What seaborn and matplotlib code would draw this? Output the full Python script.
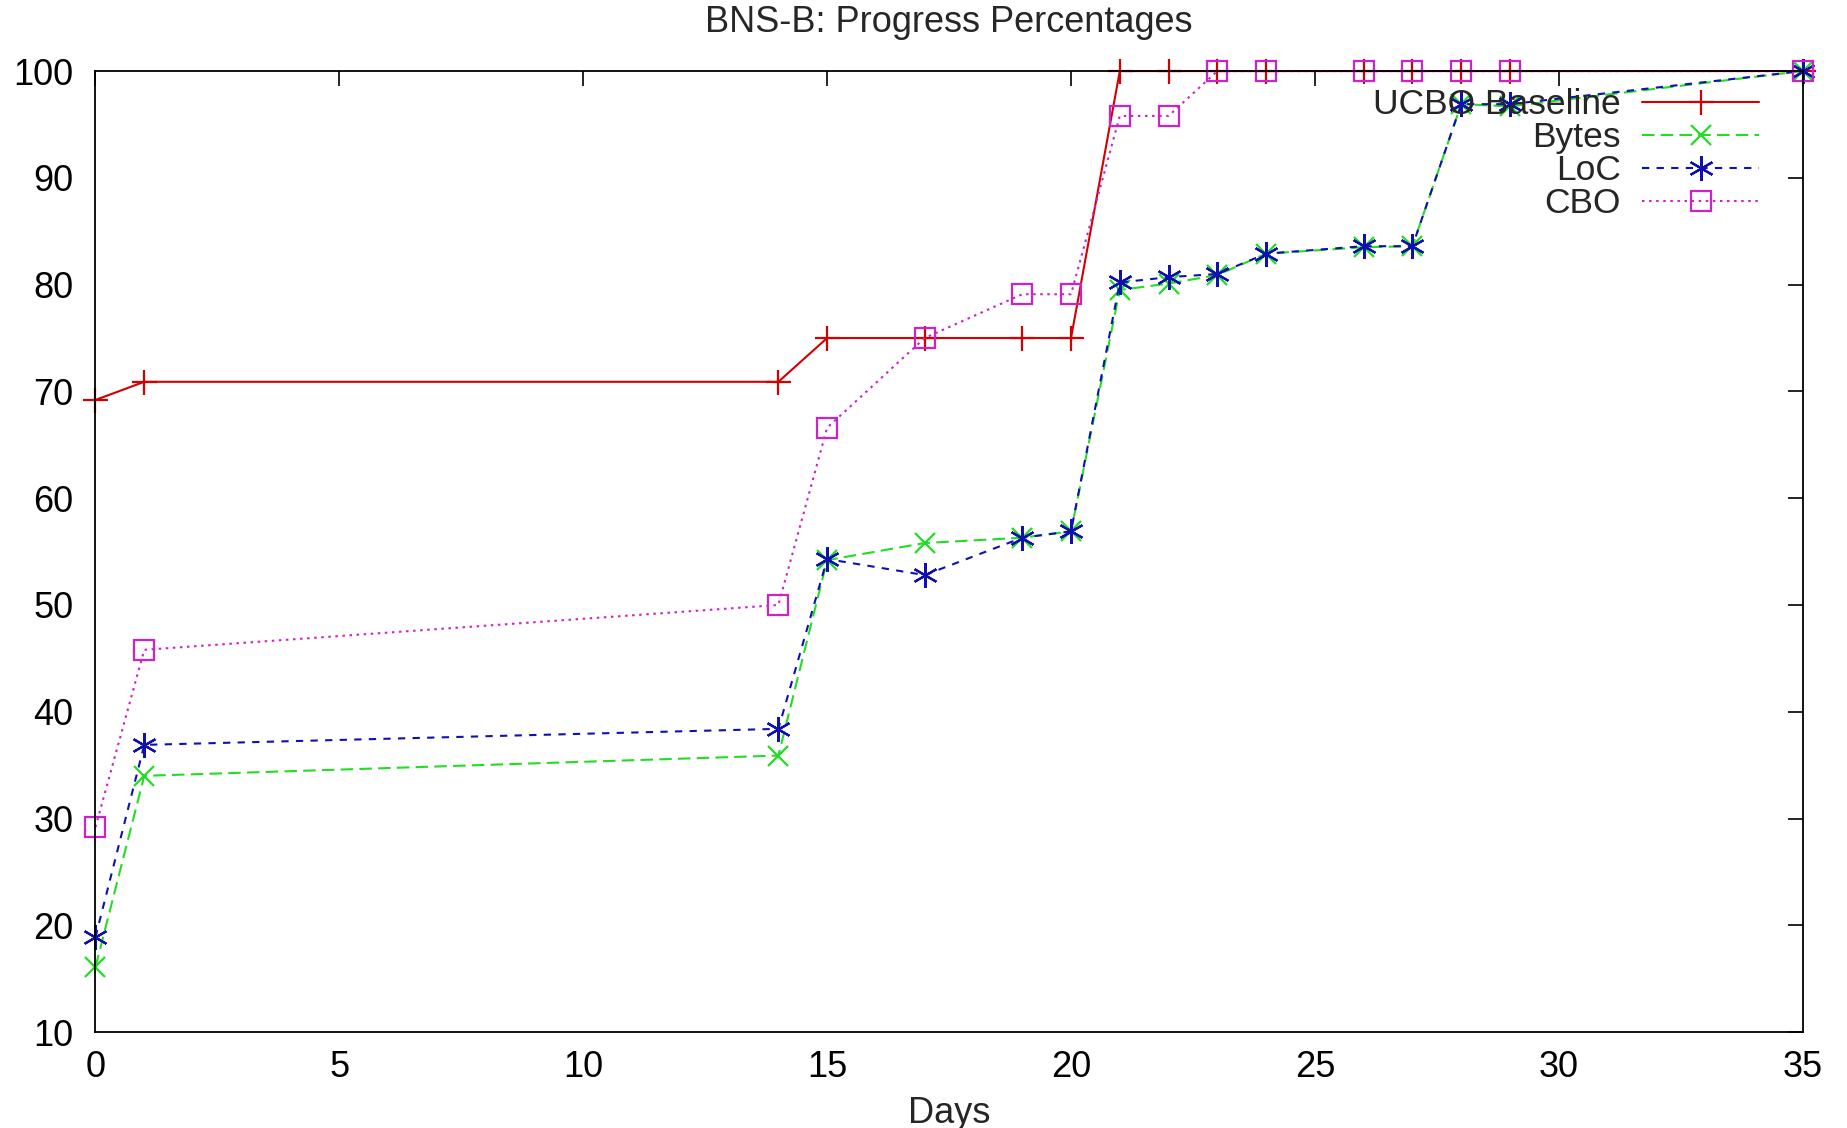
import matplotlib
matplotlib.use("Agg")
import matplotlib.pyplot as plt
import seaborn as sns
import pandas as pd

days = [0, 1, 14, 15, 17, 19, 20, 21, 22, 23, 24, 26, 27, 28, 29, 35]
ucbo_baseline = [69.2, 70.9, 70.9, 75, 75, 75, 75, 100, 100, 100, 100, 100, 100, 100, 100, 100]
bytes_pct = [16.1, 34.0, 35.9, 54.2, 55.8, 56.3, 56.9, 79.5, 80.1, 80.9, 82.9, 83.5, 83.6, 96.9, 96.7, 100]
loc_pct = [18.9, 36.9, 38.4, 54.3, 52.8, 56.3, 56.9, 80.2, 80.7, 81.0, 82.9, 83.6, 83.6, 96.9, 96.9, 100]
cbo_pct = [29.2, 45.8, 50.0, 66.6, 75.0, 79.1, 79.1, 95.8, 95.8, 100, 100, 100, 100, 100, 100, 100]

series_names = ["UCBO Baseline", "Bytes", "LoC", "CBO"]
series_values = [ucbo_baseline, bytes_pct, loc_pct, cbo_pct]
x_ticks = [0, 5, 10, 15, 20, 25, 30, 35]
y_ticks = [10, 20, 30, 40, 50, 60, 70, 80, 90, 100]

sns.set_style("white")
plt.rcParams['font.family'] = ['Liberation Sans', 'DejaVu Sans']

colors = ["#d40000", "#22dd22", "#1010b0", "#cc22cc"]
marker_list = ["+", "x", (6, 2, 0), "s"]
dash_list = ["", (6, 3), (3.5, 3.5), (1.2, 2.2)]
msizes = [18, 15, 18, 15]

fig = plt.figure(figsize=(18.47, 11.28), dpi=100)
ax = fig.add_axes([0.0517, 0.085, 0.9243, 0.852])

for n, v, c, m, d, ms in zip(series_names, series_values, colors, marker_list, dash_list, msizes):
    sub = pd.DataFrame({"Days": days, "Pct": v, "Series": n})
    sns.lineplot(data=sub, x="Days", y="Pct", hue="Series", style="Series",
                 palette={n: c}, markers={n: m}, dashes={n: d},
                 ax=ax, lw=1.5, markersize=ms, markeredgewidth=1.6,
                 markeredgecolor=c, markerfacecolor="none", clip_on=False)

ax.set_xlim(0, 35)
ax.set_ylim(10, 100)
ax.set_xticks(x_ticks)
ax.set_yticks(y_ticks)
ax.tick_params(direction="in", length=11, width=1.2, top=True, right=True,
               labelsize=26, colors="black")
ax.tick_params(axis="x", pad=13)
ax.tick_params(axis="y", pad=16)
for s in ax.spines.values():
    s.set_visible(True)
    s.set_color("black")
    s.set_linewidth(1.3)

ax.set_xlabel("Days", fontsize=26, labelpad=8)
ax.set_ylabel("")
ax.set_title("BNS-B: Progress Percentages", fontsize=26, pad=28)

handles, labels = ax.get_legend_handles_labels()
for h, c, ms in zip(handles, colors, msizes):
    h.set_markersize(ms)
    h.set_markeredgewidth(1.6)
    h.set_markeredgecolor(c)
    h.set_markerfacecolor("none")
leg = ax.legend(handles, labels, loc="upper right", bbox_to_anchor=(0.987, 1.004), frameon=False,
                markerfirst=False, fontsize=25.5, handlelength=3.3, labelspacing=0.0,
                borderaxespad=0.2, handletextpad=0.6)
for t in leg.get_texts():
    t.set_ha("right")
leg._legend_box.align = "right"

fig.savefig("out.png", dpi=100)
